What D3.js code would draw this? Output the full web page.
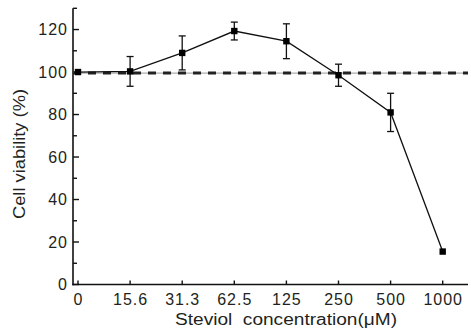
<!DOCTYPE html>
<html>
<head>
<meta charset="utf-8">
<script src="https://cdn.jsdelivr.net/npm/d3@7"></script>
<style>
  body { margin: 0; background: #fff; }
  svg { display: block; }
  text { font-family: "Liberation Sans", Arial, sans-serif; fill: #231f20; }
</style>
</head>
<body>
<svg id="chart" width="471" height="334"></svg>
<script>
// concentrations (uM) shown as categories
var concentrations = ["0", "15.6", "31.3", "62.5", "125", "250", "500", "1000"];
var viability = [100, 100.3, 109, 119.3, 114.5, 98.5, 81, 15.5];
var errors = [0.5, 7, 8, 4.2, 8.2, 5.2, 9, 0];
var yTicks = [0, 20, 40, 60, 80, 100, 120];
var yMinorTicks = [10, 30, 50, 70, 90, 110, 130];
var controlLevel = 99.5;

var svg = d3.select("#chart");

var x = d3.scalePoint()
    .domain(concentrations)
    .range([78, 442.7]);

var y = d3.scaleLinear()
    .domain([0, 130])
    .range([284.5, 8.3]);

var axisLeft = 73, axisRight = 468;

// axes lines
svg.append("line")
    .attr("x1", axisLeft).attr("x2", axisLeft)
    .attr("y1", y(130)).attr("y2", y(0) + 0.8)
    .attr("stroke", "#111").attr("stroke-width", 1.6);
svg.append("line")
    .attr("x1", axisLeft - 0.8).attr("x2", axisRight)
    .attr("y1", y(0)).attr("y2", y(0))
    .attr("stroke", "#111").attr("stroke-width", 1.6);

// y ticks (pointing inward)
svg.selectAll(".ymajor").data(yTicks).enter().append("line")
    .attr("x1", axisLeft).attr("x2", axisLeft + 6)
    .attr("y1", function (d) { return y(d); })
    .attr("y2", function (d) { return y(d); })
    .attr("stroke", "#111").attr("stroke-width", 1.4);
svg.selectAll(".yminor").data(yMinorTicks).enter().append("line")
    .attr("x1", axisLeft).attr("x2", axisLeft + 4)
    .attr("y1", function (d) { return y(d); })
    .attr("y2", function (d) { return y(d); })
    .attr("stroke", "#111").attr("stroke-width", 1.4);

svg.selectAll(".ylab").data(yTicks).enter().append("text")
    .attr("x", 68)
    .attr("y", function (d) { return y(d); })
    .attr("dy", "0.36em")
    .attr("text-anchor", "end")
    .style("font-size", "16px")
    .style("letter-spacing", "1px")
    .text(function (d) { return d; });

// x ticks
svg.selectAll(".xtick").data(concentrations).enter().append("line")
    .attr("x1", function (d) { return x(d); })
    .attr("x2", function (d) { return x(d); })
    .attr("y1", y(0)).attr("y2", y(0) - 4)
    .attr("stroke", "#111").attr("stroke-width", 1.4);

svg.selectAll(".xlab").data(concentrations).enter().append("text")
    .attr("x", function (d) { return x(d) + 0.5; })
    .attr("y", 305)
    .attr("text-anchor", "middle")
    .style("font-size", "16px")
    .style("letter-spacing", "1px")
    .text(function (d) { return d; });

// axis titles
svg.append("text")
    .attr("x", 286).attr("y", 325)
    .attr("text-anchor", "middle")
    .attr("textLength", 222)
    .attr("lengthAdjust", "spacingAndGlyphs")
    .style("font-size", "16px")
    .style("white-space", "pre")
    .text("Steviol  concentration(\u03bcM)");

svg.append("text")
    .attr("transform", "translate(25,154) rotate(-90)")
    .attr("text-anchor", "middle")
    .attr("textLength", 130)
    .attr("lengthAdjust", "spacingAndGlyphs")
    .style("font-size", "17px")
    .text("Cell viability (%)");

// control reference line: thin grey line with heavy dashes over it
svg.append("line")
    .attr("x1", axisLeft).attr("x2", axisRight)
    .attr("y1", y(controlLevel)).attr("y2", y(controlLevel))
    .attr("stroke", "#999").attr("stroke-width", 1);
svg.append("line")
    .attr("x1", axisLeft).attr("x2", axisRight)
    .attr("y1", y(controlLevel)).attr("y2", y(controlLevel))
    .attr("stroke", "#222").attr("stroke-width", 3)
    .attr("stroke-dasharray", "8,7");

var pts = concentrations.map(function (c, i) {
    return { c: c, v: viability[i], e: errors[i] };
});

// error bars
var eb = svg.selectAll(".err").data(pts.filter(function (d) { return d.e > 1; }))
    .enter().append("g");
eb.append("line")
    .attr("x1", function (d) { return x(d.c); })
    .attr("x2", function (d) { return x(d.c); })
    .attr("y1", function (d) { return y(d.v + d.e); })
    .attr("y2", function (d) { return y(d.v - d.e); })
    .attr("stroke", "#111").attr("stroke-width", 1.3);
[1, -1].forEach(function (s) {
    eb.append("line")
        .attr("x1", function (d) { return x(d.c) - 3.5; })
        .attr("x2", function (d) { return x(d.c) + 3.5; })
        .attr("y1", function (d) { return y(d.v + s * d.e); })
        .attr("y2", function (d) { return y(d.v + s * d.e); })
        .attr("stroke", "#111").attr("stroke-width", 1.3);
});

// line
svg.append("path")
    .datum(pts)
    .attr("fill", "none")
    .attr("stroke", "#111")
    .attr("stroke-width", 1.3)
    .attr("d", d3.line()
        .x(function (d) { return x(d.c); })
        .y(function (d) { return y(d.v); }));

// square markers
svg.selectAll(".pt").data(pts).enter().append("rect")
    .attr("x", function (d) { return x(d.c) - 3.2; })
    .attr("y", function (d) { return y(d.v) - 3.2; })
    .attr("width", 6.4).attr("height", 6.4)
    .attr("fill", "#000");
</script>
</body>
</html>
